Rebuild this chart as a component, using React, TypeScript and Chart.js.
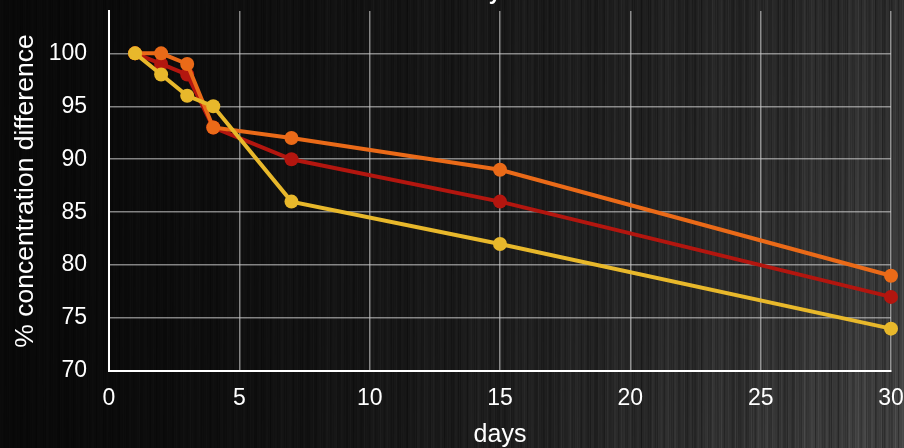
import { useEffect, useRef } from "react";
import { Chart, registerables } from "chart.js";

Chart.register(...registerables);

// Sampling days shared by all three series
const days = [1, 2, 3, 4, 7, 15, 30];
// % concentration difference per series
const redSeries = [100, 99, 98, 93, 90, 86, 77];
const orangeSeries = [100, 100, 99, 93, 92, 89, 79];
const yellowSeries = [100, 98, 96, 95, 86, 82, 74];
// Axis ticks
const xTicks = [0, 5, 10, 15, 20, 25, 30];
const yTicks = [70, 75, 80, 85, 90, 95, 100];

const chartTitle = "Stability";
const xTitle = "days";
const yTitle = "% concentration difference";

const RED = "#b3160f";
const ORANGE = "#ea6a18";
const YELLOW = "#e8b82b";
const FONT = "'Liberation Sans', Arial, sans-serif";

const W = 904;
const H = 448;

// Brushed dark metal backdrop: dark on the left, lighter towards the lower right,
// with fine vertical streaks.
function makeBackdrop(): HTMLCanvasElement {
  const c = document.createElement("canvas");
  c.width = W;
  c.height = H;
  const g = c.getContext("2d")!;
  const img = g.createImageData(W, H);
  const d = img.data;
  for (let x = 0; x < W; x++) {
    const fx = x / W;
    const colStreak =
      0.45 * Math.sin(x * 0.83 + 0.4) +
      0.3 * Math.sin(x * 2.71 + 1.9) +
      0.25 * Math.sin(x * 0.131 + 2.2) +
      0.2 * Math.sin(x * 4.3 + 0.7);
    for (let y = 0; y < H; y++) {
      const fy = y / H;
      const s = colStreak + 0.2 * Math.sin(x * 1.37 + y * 0.015) + 0.12 * Math.sin(x * 3.1 - y * 0.02);
      let v = 9 + 36 * Math.pow(fx, 1.5) + 20 * fx * fx * fy;
      v *= 1 + 0.28 * s;
      const i = (y * W + x) * 4;
      d[i] = v;
      d[i + 1] = v;
      d[i + 2] = v;
      d[i + 3] = 255;
    }
  }
  g.putImageData(img, 0, 0);
  return c;
}

const backdropPlugin = {
  id: "backdrop",
  beforeDraw(chart: any) {
    const ctx = chart.ctx;
    if (!chart.$backdrop) chart.$backdrop = makeBackdrop();
    ctx.save();
    ctx.drawImage(chart.$backdrop, 0, 0);
    ctx.restore();
  },
};

// Chart heading sits mostly above the canvas edge
const headingPlugin = {
  id: "heading",
  afterDraw(chart: any) {
    const ctx = chart.ctx;
    ctx.save();
    ctx.font = `bold 22px ${FONT}`;
    ctx.fillStyle = "#ffffff";
    ctx.textAlign = "right";
    ctx.textBaseline = "alphabetic";
    ctx.fillText(chartTitle, 501, -1);
    ctx.restore();
  },
};

function series(label: string, values: number[], color: string, order: number) {
  return {
    label,
    data: days.map((d, i) => ({ x: d, y: values[i] })),
    borderColor: color,
    backgroundColor: color,
    pointBackgroundColor: color,
    pointBorderColor: color,
    pointBorderWidth: 0,
    pointRadius: 7,
    borderWidth: 4,
    tension: 0,
    clip: false as const,
    order,
  };
}

export default function App() {
  const ref = useRef<HTMLCanvasElement | null>(null);

  useEffect(() => {
    document.body.style.margin = "0";
    const canvas = ref.current!;
    const gridColor = "rgba(205,205,205,0.62)";
    const chart = new Chart(canvas, {
      type: "line",
      data: {
        datasets: [
          series("yellow", yellowSeries, YELLOW, 1),
          series("orange", orangeSeries, ORANGE, 2),
          series("red", redSeries, RED, 3),
        ],
      },
      options: {
        responsive: false,
        animation: false,
        layout: { padding: { top: 11, right: 13, left: 0, bottom: 0 } },
        plugins: {
          legend: { display: false },
          title: { display: false },
          tooltip: { enabled: false },
        },
        scales: {
          x: {
            type: "linear",
            min: xTicks[0],
            max: xTicks[xTicks.length - 1],
            afterBuildTicks(scale: any) {
              scale.ticks = xTicks.map((v) => ({ value: v }));
            },
            afterFit(scale: any) {
              scale.height = 77;
              scale.paddingLeft = 0;
              scale.paddingRight = 0;
            },
            ticks: {
              color: "#ffffff",
              padding: 14,
              maxRotation: 0,
              font: { family: FONT, size: 23 },
            },
            grid: { color: gridColor, lineWidth: 1.5, drawTicks: false },
            border: { color: "#ffffff", width: 2 },
            title: {
              display: true,
              text: xTitle,
              color: "#ffffff",
              font: { family: FONT, size: 25, lineHeight: 1 },
              padding: { top: 0, bottom: 0 },
            },
          },
          y: {
            type: "linear",
            min: yTicks[0],
            max: 104,
            afterBuildTicks(scale: any) {
              scale.ticks = yTicks.map((v) => ({ value: v }));
            },
            afterFit(scale: any) {
              scale.width = 109;
              scale.paddingTop = 0;
              scale.paddingBottom = 0;
            },
            ticks: {
              color: "#ffffff",
              padding: 22,
              font: { family: FONT, size: 23 },
            },
            grid: { color: gridColor, lineWidth: 1.5, drawTicks: false },
            border: { color: "#ffffff", width: 2 },
            title: {
              display: true,
              text: yTitle,
              color: "#ffffff",
              font: { family: FONT, size: 26.5, lineHeight: 1.2 },
              padding: { top: 10, bottom: 0 },
            },
          },
        },
      },
      plugins: [backdropPlugin, headingPlugin],
    });
    return () => chart.destroy();
  }, []);

  return (
    <div style={{ width: W, height: H, overflow: "hidden" }}>
      <canvas ref={ref} width={W} height={H} />
    </div>
  );
}
